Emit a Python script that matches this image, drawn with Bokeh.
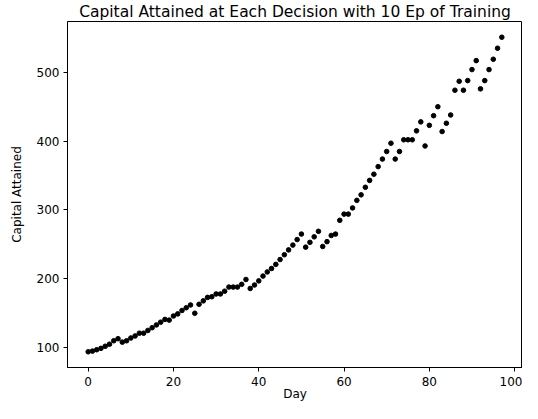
from bokeh.plotting import figure
from bokeh.models import Range1d, FixedTicker
from bokeh.embed import file_html
from bokeh.resources import INLINE

days = list(range(98))
capital = [94, 95, 97, 99, 102, 105, 110, 113, 108, 110,
           114, 117, 121, 121, 125, 129, 133, 137, 141, 140,
           146, 149, 154, 158, 162, 150, 163, 168, 173, 174,
           178, 178, 182, 188, 188, 188, 192, 199, 186, 191,
           197, 204, 210, 215, 221, 228, 235, 242, 249, 257,
           265, 246, 253, 261, 269, 247, 254, 263, 265, 285,
           294, 294, 303, 314, 322, 333, 343, 352, 363, 374,
           385, 397, 374, 385, 402, 402, 402, 415, 428, 393,
           423, 437, 450, 414, 426, 438, 474, 487, 474, 488,
           504, 517, 476, 488, 504, 519, 535, 551]
x_ticks = [0, 20, 40, 60, 80, 100]
y_ticks = [100, 200, 300, 400, 500]

xmin, xmax = min(days), max(days)
ymin, ymax = min(capital), max(capital)
xpad = 0.05 * (xmax - xmin)
ypad = 0.05 * (ymax - ymin)

FONT = "DejaVu Sans"

p = figure(width=522, height=403, output_backend="svg", toolbar_location=None,
           title="Capital Attained at Each Decision with 10 Ep of Training",
           x_range=Range1d(xmin - xpad, xmax + xpad),
           y_range=Range1d(ymin - ypad, ymax + ypad),
           min_border_left=67, min_border_right=0, min_border_top=0, min_border_bottom=0)

p.title.align = "center"
p.title.text_font = FONT
p.title.text_font_size = "15.5px"
p.title.text_font_style = "normal"
p.title.text_color = "black"
p.title.standoff = 1

p.scatter(days, capital, size=4.6, color="black")

p.grid.visible = False
p.outline_line_color = "black"
p.outline_line_alpha = 1
p.outline_line_width = 1

p.xaxis.ticker = FixedTicker(ticks=x_ticks)
p.yaxis.ticker = FixedTicker(ticks=y_ticks)
p.xaxis.axis_label = "Day"
p.yaxis.axis_label = "Capital Attained"
for ax in (p.xaxis, p.yaxis):
    ax.axis_label_text_font = FONT
    ax.axis_label_text_font_size = "12px"
    ax.axis_label_text_font_style = "normal"
    ax.axis_label_text_color = "black"
    ax.major_label_text_font = FONT
    ax.major_label_text_font_size = "12px"
    ax.major_label_text_color = "black"
    ax.major_tick_in = 0
    ax.major_tick_out = 4
    ax.minor_tick_line_color = None
    ax.axis_line_color = "black"
    ax.major_tick_line_color = "black"
p.xaxis.axis_label_standoff = -2
p.xaxis.major_label_standoff = 5
p.yaxis.axis_label_standoff = 10
p.yaxis.major_label_standoff = 4

open("out.html", "w").write(file_html(p, INLINE))
